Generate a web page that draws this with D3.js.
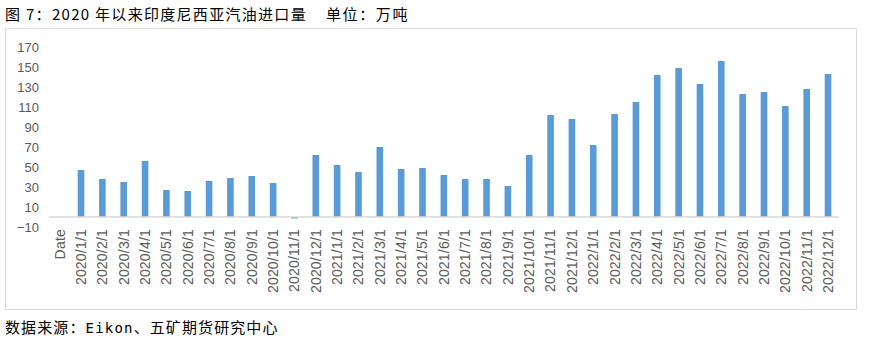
<!DOCTYPE html>
<html>
<head>
<meta charset="utf-8">
<script src="https://cdn.jsdelivr.net/npm/d3@7"></script>
<style>
  html, body { margin: 0; padding: 0; background: #fff; }
  svg { display: block; }
</style>
</head>
<body>
<svg id="chart" width="870" height="346"></svg>
<script>
const categories = ["Date",
  "2020/1/1","2020/2/1","2020/3/1","2020/4/1","2020/5/1","2020/6/1","2020/7/1","2020/8/1","2020/9/1","2020/10/1","2020/11/1","2020/12/1",
  "2021/1/1","2021/2/1","2021/3/1","2021/4/1","2021/5/1","2021/6/1","2021/7/1","2021/8/1","2021/9/1","2021/10/1","2021/11/1","2021/12/1",
  "2022/1/1","2022/2/1","2022/3/1","2022/4/1","2022/5/1","2022/6/1","2022/7/1","2022/8/1","2022/9/1","2022/10/1","2022/11/1","2022/12/1"];
const values = [null,
  47, 38, 35, 56, 27, 26, 36, 39, 41, 34, -1.5, 62,
  52, 45, 70, 48, 49, 42, 38, 38, 31, 62, 102, 98,
  72, 103, 115, 142, 149, 133, 156, 123, 125, 111, 128, 143];
const yTicks = [-10, 10, 30, 50, 70, 90, 110, 130, 150, 170];
const titleText = "图 7：2020 年以来印度尼西亚汽油进口量";
const unitText = "单位：万吨";
const sourceParts = ["数据来源：", "Eikon", "、五矿期货研究中心"];

const svg = d3.select("#chart");
const gray = "#d9d9d9";
const textColor = "#595959";

// frame
svg.append("rect").attr("x", 5.5).attr("y", 28.5).attr("width", 851).attr("height", 281)
  .attr("fill", "none").attr("stroke", gray).attr("stroke-width", 1);

// title
svg.append("text").attr("x", 5).attr("y", 19.5)
  .attr("font-family", "'Noto Sans CJK SC', sans-serif").attr("font-size", 15)
  .attr("letter-spacing", 1.3).attr("fill", "#000").text(titleText);
svg.append("text").attr("x", 326).attr("y", 19.5)
  .attr("font-family", "'Noto Sans CJK SC', sans-serif").attr("font-size", 15)
  .attr("letter-spacing", 1.6).attr("fill", "#000").text(unitText);

// source
const src = svg.append("text").attr("x", 5).attr("y", 333)
  .attr("font-family", "'Noto Sans CJK SC', sans-serif").attr("font-size", 15)
  .attr("letter-spacing", 1.1).attr("fill", "#000");
src.append("tspan").text(sourceParts[0]);
src.append("tspan").attr("font-family", "'DejaVu Sans Mono', monospace").attr("font-size", 14).attr("letter-spacing", 1.2).text(sourceParts[1]);
src.append("tspan").text(sourceParts[2]);

const x = d3.scaleBand().domain(categories).range([49, 838.7]).padding(0);
const y = d3.scaleLinear().domain([-10, 170]).range([227, 47]);

// y axis labels
const yAxis = d3.axisLeft(y).tickValues(yTicks).tickSize(0).tickPadding(0)
  .tickFormat(d => d < 0 ? "\u2212" + Math.abs(d) : d);
const yg = svg.append("g").attr("transform", "translate(39,0)").call(yAxis);
yg.select(".domain").remove();
yg.selectAll("text").attr("font-family", "'Liberation Sans', Arial, sans-serif")
  .attr("font-size", 13).attr("fill", textColor);

// bars
const barW = x.bandwidth() * 0.31;
svg.append("g").selectAll("rect")
  .data(categories.map((c, i) => ({c, v: values[i]})).filter(d => d.v !== null))
  .join("rect")
  .attr("x", d => x(d.c) + (x.bandwidth() - barW) / 2)
  .attr("width", barW)
  .attr("y", d => d.v >= 0 ? y(d.v) : y(0))
  .attr("height", d => Math.abs(y(d.v) - y(0)))
  .attr("fill", "#5B9BD5");

// x axis line
svg.append("line").attr("x1", 49).attr("x2", 838.7).attr("y1", y(0)).attr("y2", y(0))
  .attr("stroke", gray).attr("stroke-width", 1.3);

// x labels
const xAxis = d3.axisBottom(x).tickSize(0).tickPadding(0);
const xg = svg.append("g").attr("transform", "translate(0,229)").call(xAxis);
xg.select(".domain").remove();
xg.selectAll("text")
  .attr("transform", "rotate(-90)")
  .attr("text-anchor", "end")
  .attr("x", 0).attr("y", 0).attr("dy", "0.35em")
  .attr("font-family", "'Liberation Sans', Arial, sans-serif")
  .attr("font-size", 14).attr("letter-spacing", 0.2).attr("fill", textColor);
</script>
</body>
</html>
